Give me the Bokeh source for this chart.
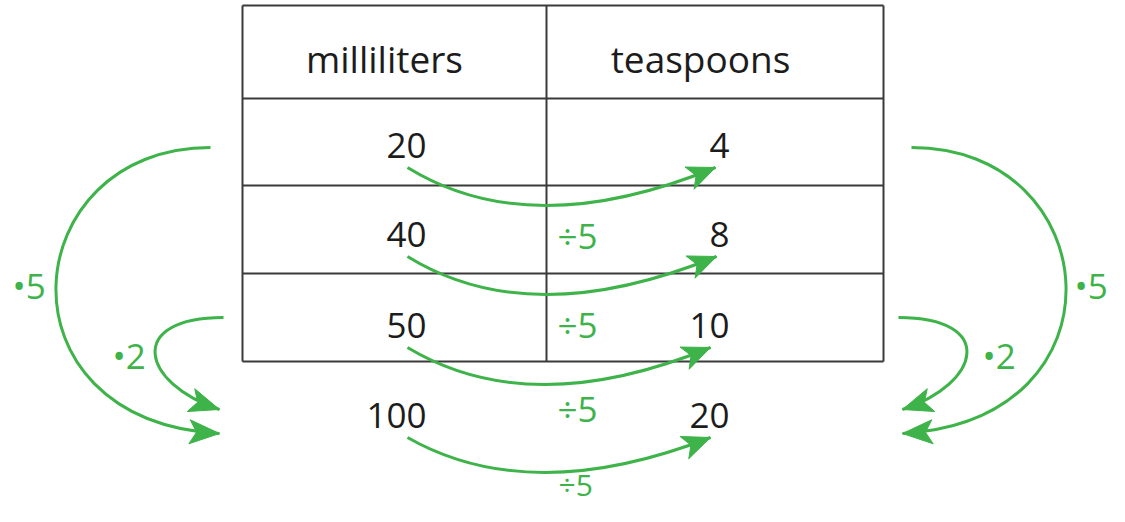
import numpy as np
from bokeh.plotting import figure
from bokeh.models import Range1d
from bokeh.core.properties import value
from bokeh.embed import file_html
from bokeh.resources import INLINE

# ---- data ----
headers = ["milliliters", "teaspoons"]
milliliters = [20, 40, 50, 100]
teaspoons = [4, 8, 10, 20]
ratio_label = "÷5"
left_factors = ["•5", "•2"]
right_factors = ["•5", "•2"]

# ---- layout (pixel space, y grows downward) ----
W, H = 1109, 506
GREEN = "#3db349"
INK = "#1c1c1c"
LINE = "#3a3a3a"
FONT = value("Open Sans")
DY = -5   # global vertical nudge so the lowest label fits the canvas
TY = -12  # text anchor correction (renderer places anchor near glyph middle)

table_rows_y = [10, 103, 190, 278, 366]
table_cols_x = [242, 546, 883]
header_x = [384, 700]
header_base = 75
col_right_x = [426, 729]
row_base = [162, 251, 342, 432]
ratio_x = 557
ratio_base = [252, 341, 425]
last_ratio_y = 484  # anchor of the lowest ÷5 label (already final)

p = figure(width=W, height=H, x_range=Range1d(0, W), y_range=Range1d(H - DY, -DY),
           output_backend="svg", toolbar_location=None, min_border=0,
           x_axis_type=None, y_axis_type=None)
p.grid.visible = False
p.outline_line_color = None
p.background_fill_color = "white"

# table
x0, x1 = table_cols_x[0], table_cols_x[-1]
p.segment(x0=[x0] * len(table_rows_y), x1=[x1] * len(table_rows_y),
          y0=table_rows_y, y1=table_rows_y, line_color=LINE, line_width=2)
p.segment(x0=table_cols_x, x1=table_cols_x, y0=[table_rows_y[0]] * 3,
          y1=[table_rows_y[-1]] * 3, line_color=LINE, line_width=2)

# headers
p.text(x=header_x, y=[header_base + TY] * 2, text=headers, text_align="center",
       text_baseline="alphabetic", text_font=FONT, text_font_size="37px",
       text_color=INK)

# numbers
p.text(x=[col_right_x[0]] * len(milliliters), y=[b + TY for b in row_base],
       text=[str(v) for v in milliliters], text_align="right",
       text_baseline="alphabetic", text_font=FONT, text_font_size="35px",
       text_color=INK)
p.text(x=[col_right_x[1]] * len(teaspoons), y=[b + TY for b in row_base],
       text=[str(v) for v in teaspoons], text_align="right",
       text_baseline="alphabetic", text_font=FONT, text_font_size="35px",
       text_color=INK)

# ratio labels
p.text(x=[ratio_x] * len(ratio_base), y=[b + TY for b in ratio_base],
       text=[ratio_label] * len(ratio_base),
       text_align="left", text_baseline="alphabetic", text_font=FONT,
       text_font_size="35px", text_color=GREEN)
p.text(x=[ratio_x + 1], y=[last_ratio_y - DY], text=[ratio_label],
       text_align="left", text_baseline="alphabetic", text_font=FONT,
       text_font_size="30px", text_color=GREEN)


def head(tip, d, L=28, Wd=12, notch=7):
    tip = np.array(tip, float)
    d = np.array(d, float)
    d = d / np.hypot(*d)
    n = np.array([-d[1], d[0]])
    pts = [tip, tip - L * d + Wd * n, tip - (L - notch) * d, tip - L * d - Wd * n]
    return [q[0] for q in pts], [q[1] for q in pts]


hx, hy = [], []

# horizontal arrows (ml -> tsp)
tips_x = [715, 716, 710, 710]
dips = [76, 76, 74, 70]
for i, yb in enumerate(row_base):
    ys = yb + 10
    sx, ex = 407, tips_x[i]
    cx, cy = 530, ys + dips[i]
    p.quadratic(x0=[sx], y0=[ys], x1=[ex], y1=[ys], cx=[cx], cy=[cy],
                line_color=GREEN, line_width=3)
    a, b = head((ex, ys), (ex - cx, ys - cy))
    hx.append(a)
    hy.append(b)

# side arcs (left), mirrored on right
AX = 560.5
arcs = [
    # P0, P1, P2, P3
    ((210, 152), (15, 152), (-10, 425), (219, 438)),
    ((223, 322), (125, 322), (140, 388), (219, 414)),
]
for P0, P1, P2, P3 in arcs:
    for mirror in (False, True):
        f = (lambda x: 2 * AX - x) if mirror else (lambda x: x)
        q0, q1, q2, q3 = [(f(x), y) for x, y in (P0, P1, P2, P3)]
        p.bezier(x0=[q0[0]], y0=[q0[1]], x1=[q3[0]], y1=[q3[1]],
                 cx0=[q1[0]], cy0=[q1[1]], cx1=[q2[0]], cy1=[q2[1]],
                 line_color=GREEN, line_width=3)
        a, b = head(q3, (q3[0] - q2[0], q3[1] - q2[1]), L=30, Wd=12, notch=7)
        hx.append(a)
        hy.append(b)

p.patches(xs=hx, ys=hy, fill_color=GREEN, line_color=GREEN, line_width=1)

# factor labels
p.text(x=[12, 112], y=[302 + TY, 372 + TY], text=left_factors, text_align="left",
       text_baseline="alphabetic", text_font=FONT, text_font_size="35px",
       text_color=GREEN)
p.text(x=[1074, 982], y=[302 + TY, 372 + TY], text=right_factors, text_align="left",
       text_baseline="alphabetic", text_font=FONT, text_font_size="35px",
       text_color=GREEN)

open("out.html", "w").write(file_html(p, INLINE))
